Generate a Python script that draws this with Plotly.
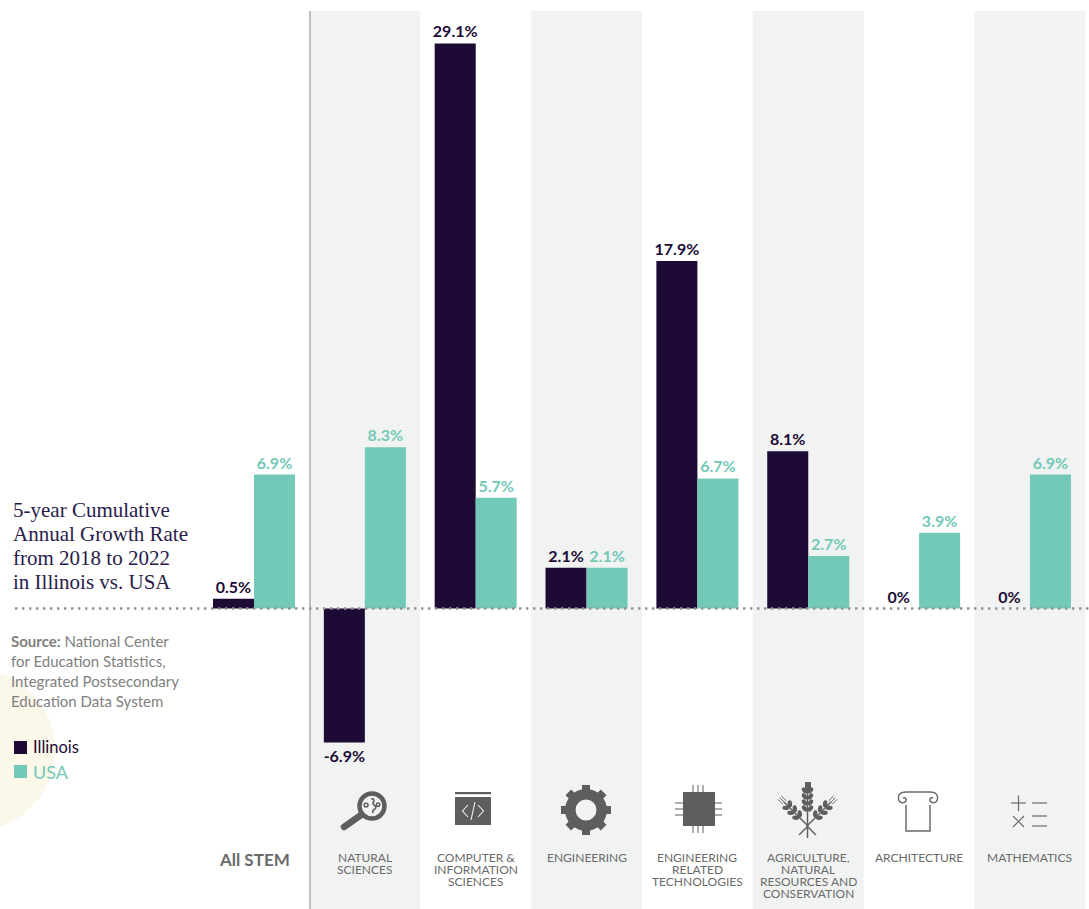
import base64
import plotly.graph_objects as go

W, H = 1089, 909

# Chart data
categories = ["All STEM", "Natural Sciences", "Computer & Information Sciences", "Engineering",
              "Engineering Related Technologies",
              "Agriculture, Natural Resources and Conservation", "Architecture", "Mathematics"]
illinois = [0.5, -6.9, 29.1, 2.1, 17.9, 8.1, 0, 0]
usa = [6.9, 8.3, 5.7, 2.1, 6.7, 2.7, 3.9, 6.9]
illinois_labels = ["0.5%", "-6.9%", "29.1%", "2.1%", "17.9%", "8.1%", "0%", "0%"]
usa_labels = ["6.9%", "8.3%", "5.7%", "2.1%", "6.7%", "2.7%", "3.9%", "6.9%"]
axis_lines = [
    [],
    ["NATURAL", "SCIENCES"],
    ["COMPUTER &", "INFORMATION", "SCIENCES"],
    ["ENGINEERING"],
    ["ENGINEERING", "RELATED", "TECHNOLOGIES"],
    ["AGRICULTURE,", "NATURAL", "RESOURCES AND", "CONSERVATION"],
    ["ARCHITECTURE"],
    ["MATHEMATICS"],
]
title_lines = ["5-year Cumulative", "Annual Growth Rate", "from 2018 to 2022", "in Illinois vs. USA"]
source_lines = ["<b>Source:</b> National Center", "for Education Statistics,",
                "Integrated Postsecondary", "Education Data System"]

NAVY = "#1D0B36"
TEAL = "#72C9B7"
GREY = "#6A6A6A"
BAND = "#F1F3F2"
SANS = "Lato, sans-serif"
SERIF = "Liberation Serif, serif"

# Axis scales: pixels per category and per percentage point, anchored at the zero line
CAT_PX = 110.85
CAT0_PX = 254
UNIT_PX = 19.42
ZERO_PX = 608.5


def px(x):
    return x / W


def py(y):
    return 1 - y / H


fig = go.Figure()
for name, values, labels, color in [("Illinois", illinois, illinois_labels, NAVY),
                                    ("USA", usa, usa_labels, TEAL)]:
    fig.add_bar(x=categories, y=values, name=name, text=labels, textposition="outside",
                marker=dict(color=color, line_width=0), cliponaxis=False,
                textfont=dict(family=SANS, size=16, color=color, weight=700),
                hoverinfo="x+y", constraintext="none")

shapes = []
# Cream disc on the left edge
shapes.append(dict(type="circle", xref="paper", yref="paper", layer="below",
                   x0=px(-107), x1=px(55), y0=py(669), y1=py(831),
                   fillcolor="#FBF7E9", line_width=0))
# Alternating column bands
for i in range(1, len(categories), 2):
    shapes.append(dict(type="rect", xref="x", yref="paper", layer="below",
                       x0=i - 0.5, x1=i + 0.5, y0=py(11), y1=0,
                       fillcolor=BAND, line_width=0))
# Divider between the total and the fields
shapes.append(dict(type="line", xref="paper", yref="paper", layer="above",
                   x0=px(310), x1=px(310), y0=py(11), y1=0,
                   line=dict(color="#BDBFBE", width=2)))
# Dotted zero line
shapes.append(dict(type="line", xref="paper", yref="y", layer="above",
                   x0=px(15), x1=1, y0=0, y1=0,
                   line=dict(color="#929292", width=2.4, dash="2.4px,4.6px")))
# Legend swatches
for y0, color in [(741, NAVY), (765, TEAL)]:
    shapes.append(dict(type="rect", xref="paper", yref="paper", layer="above",
                       x0=px(14), x1=px(27), y0=py(y0), y1=py(y0 + 13),
                       fillcolor=color, line_width=0))

annotations = []


def note(text, x, y, size, color, family=SANS, xref="paper", anchor="left", bold=False, **extra):
    annotations.append(dict(text=f"<b>{text}</b>" if bold else text, x=x, y=py(y),
                            xref=xref, yref="paper", xanchor=anchor, yanchor="middle",
                            showarrow=False, align=anchor,
                            font=dict(family=family, size=size, color=color), **extra))


for i, line in enumerate(title_lines):
    note(line, px(11), 510 + 24 * i, 21, "#2A1B4B", SERIF)
for i, line in enumerate(source_lines):
    note(line, px(9), 641 + 20 * i, 15, "#808080")
note("Illinois", px(31), 747, 16.5, NAVY)
note("USA", px(31), 772, 18, TEAL)
note("All STEM", 0, 859.5, 17, GREY, xref="x", anchor="center", bold=True)
# Field names are set line by line to keep their tight 12 px leading
for i, lines in enumerate(axis_lines):
    for j, line in enumerate(lines):
        note(line, i, 857 + 12 * j, 12, GREY, xref="x", anchor="center", height=12, borderpad=0)

# Field icons, drawn on one overlay in canvas pixels
ICON = "#5E5E5E"


def ear(cx, cy, rot, length, start, n):
    leaves = ""
    step = (length - start) / n
    for k in range(n):
        t = start + k * step + 1.5
        leaves += (f'<ellipse cx="-2.9" cy="{-t:.1f}" rx="2.2" ry="3.5" transform="rotate(-38 -2.9 {-t:.1f})"/>'
                   f'<ellipse cx="2.9" cy="{-t:.1f}" rx="2.2" ry="3.5" transform="rotate(38 2.9 {-t:.1f})"/>')
    awns = ""
    if rot:
        for dx in (-2.4, 0, 2.4):
            awns += f'<line x1="{dx}" y1="{-length + 1}" x2="{dx}" y2="{-length - 6}" stroke="{ICON}" stroke-width="0.9"/>'
    return (f'<g transform="translate({cx} {cy}) rotate({rot})" fill="{ICON}">'
            f'<line x1="0" y1="0" x2="0" y2="{-length}" stroke="{ICON}" stroke-width="1.5"/>{leaves}{awns}</g>')


gear_teeth = "".join(
    f'<rect x="582" y="785" width="8" height="9" fill="{ICON}" transform="rotate({a} 586 810)"/>'
    for a in range(0, 360, 45))
chip_pins = "".join(
    f'<line x1="{x}" y1="785" x2="{x}" y2="833"/>' for x in (693, 698, 703)
) + "".join(
    f'<line x1="675" y1="{y}" x2="722" y2="{y}"/>' for y in (803, 809, 815)
)
svg = f'''<svg xmlns="http://www.w3.org/2000/svg" width="{W}" height="{H}" viewBox="0 0 {W} {H}">
<!-- magnifier -->
<line x1="344" y1="827" x2="361" y2="815" stroke="{ICON}" stroke-width="6.5" stroke-linecap="round"/>
<circle cx="372" cy="806" r="12.5" fill="{BAND}" stroke="{ICON}" stroke-width="4.5"/>
<path d="M371 799 q3 -1 3 2 q-2 2 0 4 q3 2 1 4 q-3 1 -2 4 M366 803 a2 2 0 1 0 0.1 0 M378 803 a1.7 1.7 0 1 0 0.1 0"
 fill="none" stroke="{ICON}" stroke-width="1.6"/>
<!-- code window -->
<rect x="455" y="792" width="36" height="2.2" fill="{ICON}"/>
<rect x="455" y="797" width="36" height="28" fill="{ICON}"/>
<path d="M468 805 l-5.5 6 5.5 6 M478 805 l5.5 6 -5.5 6 M475 802 l-4 18" fill="none" stroke="#F4F4F4" stroke-width="1.1"/>
<!-- gear -->
{gear_teeth}
<circle cx="586" cy="810" r="15.7" fill="none" stroke="{ICON}" stroke-width="10.5"/>
<!-- chip -->
<g stroke="{ICON}" stroke-width="1" fill="none">{chip_pins}</g>
<rect x="683" y="792" width="32" height="34" fill="{ICON}"/>
<!-- wheat -->
<rect x="805" y="782" width="6" height="8" fill="{ICON}"/>
{ear(807.5, 816, 0, 30, 6, 4)}
{ear(808, 826, -45, 34, 13, 3)}
{ear(807, 826, 45, 34, 13, 3)}
<g stroke="{ICON}" stroke-width="1.5"><line x1="807.5" y1="816" x2="807.5" y2="838"/>
<line x1="799" y1="835" x2="808" y2="826"/><line x1="816" y1="835" x2="807" y2="826"/></g>
<!-- column -->
<path d="M906 805 V831 H930 V805" fill="none" stroke="{GREY}" stroke-width="1.5"/>
<path d="M903 798 C905 797 907 799 906 801 C904 804 899 803 898.5 799 C898 796 899 792 906 792 H930
 C937 792 938 796 937.5 799 C937 803 932 804 930 801 C929 799 931 797 933 798" fill="none" stroke="{GREY}" stroke-width="1.5"/>
<!-- arithmetic signs -->
<g stroke="{GREY}" stroke-width="1.2" fill="none">
<line x1="1011" y1="803" x2="1026" y2="803"/><line x1="1018.5" y1="795.5" x2="1018.5" y2="811"/>
<line x1="1032" y1="803" x2="1047" y2="803"/>
<line x1="1013" y1="816" x2="1024" y2="827"/><line x1="1024" y1="816" x2="1013" y2="827"/>
<line x1="1032" y1="816" x2="1047" y2="816"/><line x1="1032" y1="826" x2="1047" y2="826"/>
</g></svg>'''
icon_uri = "data:image/svg+xml;base64," + base64.b64encode(svg.encode()).decode()

fig.update_layout(
    width=W, height=H, autosize=False,
    margin=dict(l=0, r=0, t=0, b=0),
    paper_bgcolor="white", plot_bgcolor="rgba(0,0,0,0)",
    barmode="group", bargap=0.26, bargroupgap=0,
    showlegend=False, shapes=shapes, annotations=annotations,
    images=[dict(source=icon_uri, xref="paper", yref="paper", x=0, y=1, sizex=1, sizey=1,
                 xanchor="left", yanchor="top", sizing="stretch", layer="above")],
    xaxis=dict(type="category", categoryorder="array", categoryarray=categories,
               range=[-CAT0_PX / CAT_PX, (W - CAT0_PX) / CAT_PX], visible=False, fixedrange=True),
    yaxis=dict(range=[-(H - ZERO_PX) / UNIT_PX, ZERO_PX / UNIT_PX], visible=False, fixedrange=True),
)

fig.write_html("out.html", config=dict(displayModeBar=False))
